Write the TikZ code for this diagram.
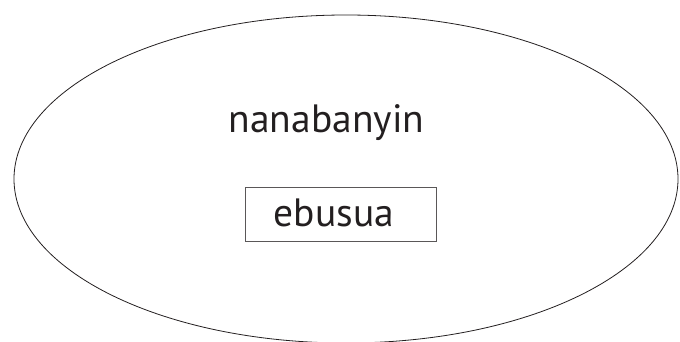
\documentclass[tikz,border=0pt]{standalone}
\usepackage{fontspec}
\setmainfont{PT Sans}
\definecolor{ink}{HTML}{231F20}
\begin{document}
\begin{tikzpicture}[x=1pt,y=-1pt,
  outline/.style={draw=ink,line width=0.8pt},
  label/.style={font=\fontsize{39.5}{42}\selectfont,inner sep=0pt,anchor=base,text=ink}]
\useasboundingbox (0,0) rectangle (680,342);
\draw[outline] (346,179) ellipse [x radius=332, y radius=164];
\node[label] (nana) at (326.5,132.5) {nanabanyin};
\node[draw=ink!75,line width=0.9pt,minimum width=191pt,minimum height=54pt,inner sep=0pt] (box) at (341,214.5) {};
\node[label] (ebu) at (334,226.5) {ebusua};
\end{tikzpicture}
\end{document}
